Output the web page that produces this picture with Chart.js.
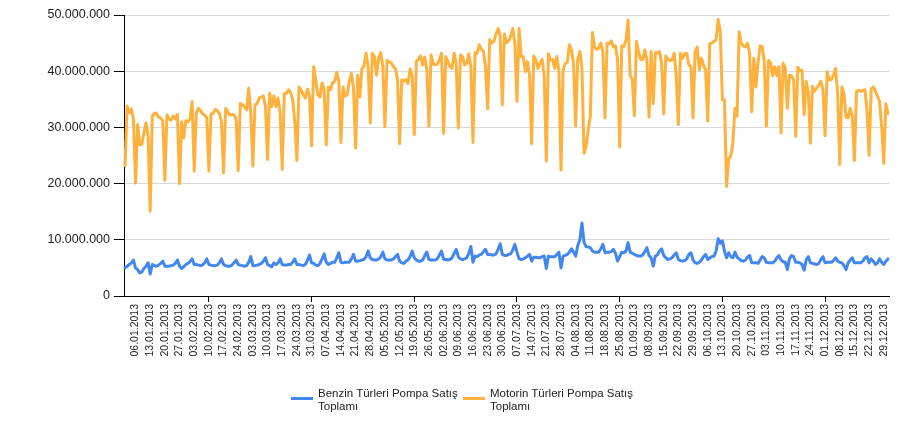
<!DOCTYPE html>
<html>
<head>
<meta charset="utf-8">
<script src="https://cdn.jsdelivr.net/npm/chart.js@4.4.1/dist/chart.umd.min.js"></script>
<style>
  html, body { margin: 0; padding: 0; background: #fff; }
  #wrap { position: relative; width: 906px; height: 432px; overflow: hidden; }
  #c { position: absolute; left: 0; top: 0; }
  .lg-sw { position: absolute; width: 22px; height: 3px; }
  .lg-tx { position: absolute; font-family: "Liberation Sans", Arial, sans-serif; font-size: 11.5px; line-height: 12.7px; color: #222; white-space: nowrap; }
</style>
</head>
<body>
<div id="wrap">
  <canvas id="c" width="906" height="432"></canvas>
  <div class="lg-sw" id="sw0" style="left:291px; top:397px;"></div>
  <div class="lg-tx" id="tx0" style="left:318px; top:387px;"></div>
  <div class="lg-sw" id="sw1" style="left:463px; top:397px;"></div>
  <div class="lg-tx" id="tx1" style="left:490px; top:387px;"></div>
</div>
<script>
// ---- Data (values in millions; daily, 01.01.2013 - 31.12.2013) ----
const UNIT = 1000000;
const seriesNames = ["Benzin Türleri Pompa Satış Toplamı", "Motorin Türleri Pompa Satış Toplamı"];
const legendLines = [["Benzin Türleri Pompa Satış", "Toplamı"], ["Motorin Türleri Pompa Satış", "Toplamı"]];
const seriesColors = ["#4287f0", "#ffb13e"];

const benzin = [
5.0,5.3,5.6,5.9,6.4,5.0,
4.7,4.1,4.3,4.9,5.3,5.9,3.9,
5.6,5.4,5.3,5.5,5.8,6.2,5.3,
5.3,5.3,5.4,5.5,5.8,6.4,5.3,
4.9,5.2,5.6,5.8,6.1,6.6,5.6,
5.6,5.5,5.4,5.5,5.9,6.6,5.6,
5.5,5.4,5.4,5.5,5.9,6.6,5.6,
5.4,5.3,5.3,5.5,5.9,6.4,5.6,
5.5,5.4,5.3,5.4,6.0,7.0,5.4,
5.4,5.5,5.6,5.8,6.2,6.8,5.6,
5.4,5.2,5.9,5.6,5.9,6.6,5.6,
5.5,5.5,5.6,5.6,6.0,6.6,5.6,
5.6,5.5,5.4,5.6,6.3,7.3,5.9,
5.8,5.5,5.4,5.8,6.6,7.5,6.0,
5.6,5.8,6.0,6.0,6.8,7.7,6.0,
5.9,6.0,6.0,6.0,6.6,7.4,6.2,
6.2,6.3,6.4,6.5,7.0,8.0,6.8,
6.5,6.4,6.4,6.6,7.0,7.8,6.6,
6.4,6.4,6.4,6.6,7.0,7.4,6.2,
5.9,5.8,6.2,6.4,7.0,8.0,6.8,
6.4,6.2,6.2,6.4,7.2,7.8,6.5,
6.4,6.4,6.4,6.6,7.3,8.0,6.5,
6.5,6.4,6.5,6.8,7.6,8.3,7.0,
6.6,6.5,6.6,6.8,7.6,8.8,6.0,
7.1,7.0,7.3,7.4,7.9,8.3,7.4,
7.4,7.3,7.3,7.5,8.3,9.3,7.4,
7.2,7.2,7.4,7.5,8.2,9.2,7.8,
6.6,6.5,6.6,6.8,7.1,7.4,6.2,
6.9,6.9,6.8,6.8,7.0,7.1,4.9,
7.1,7.0,7.0,7.0,7.4,7.8,5.0,
7.1,7.2,7.4,7.8,8.4,7.8,7.1,
9.0,10.0,13.0,9.5,8.8,8.7,8.6,
8.0,7.8,7.8,7.8,8.4,9.2,7.7,
7.8,7.8,7.9,8.3,7.6,6.2,7.0,
7.8,7.7,8.0,9.5,7.8,7.6,7.4,
7.2,7.1,7.1,7.3,7.9,8.6,7.2,
6.8,5.3,7.1,7.3,8.0,8.4,7.2,
6.8,6.5,6.6,6.8,7.3,7.7,6.5,
6.3,6.2,6.3,6.6,7.4,7.7,6.4,
5.9,5.8,6.0,6.4,7.0,7.4,6.5,
6.8,7.0,7.1,8.0,10.2,9.4,9.8,
8.0,6.8,7.7,7.0,6.8,7.8,6.9,
6.6,6.3,6.2,6.4,6.9,7.2,5.9,
5.9,5.9,5.8,6.4,7.0,6.8,6.0,
5.9,5.9,5.9,6.2,6.8,7.2,6.4,
6.1,6.0,4.7,6.6,7.2,7.0,6.0,
6.0,5.9,5.6,4.6,6.4,7.0,5.9,
5.8,5.7,5.6,5.8,6.5,7.0,5.9,
6.0,6.0,6.0,6.3,6.8,6.2,6.0,
5.9,5.4,4.7,5.9,6.4,6.8,5.9,
5.9,5.9,5.9,6.2,6.8,7.0,5.9,
6.6,6.2,5.6,5.9,6.6,6.0,5.6,
6.2,6.6
];

const motorin = [
23.2,33.8,32.6,33.3,31.5,20.1,
30.5,26.9,27.0,29.0,30.8,28.5,15.1,
32.0,32.5,32.5,31.8,31.7,31.2,20.6,
32.2,31.5,31.3,32.0,31.5,32.3,20.0,
31.0,28.1,31.2,31.0,31.5,34.6,22.2,
32.6,33.4,33.0,32.4,32.2,31.7,22.2,
32.4,32.5,33.2,33.0,32.5,31.0,21.9,
33.4,32.8,32.2,32.3,32.2,31.5,22.3,
34.3,34.0,33.7,33.1,37.0,32.5,23.1,
34.0,34.2,35.2,35.4,35.6,33.7,24.3,
36.1,33.7,35.6,33.7,35.2,32.5,22.5,
36.0,36.1,36.7,36.2,34.9,31.0,24.1,
37.2,36.7,35.8,35.2,36.8,35.6,26.7,
40.8,38.5,35.8,35.4,37.9,36.7,26.9,
37.2,36.7,37.9,38.2,39.8,38.2,27.3,
37.2,35.6,35.8,38.2,39.6,37.0,26.3,
39.3,35.4,40.4,40.9,43.2,40.8,30.8,
43.2,42.6,39.3,42.3,43.3,40.8,30.1,
41.9,41.7,41.5,40.8,40.5,38.5,27.1,
38.5,38.2,38.5,37.8,40.4,39.1,28.7,
41.7,42.1,42.7,41.1,42.5,40.2,30.2,
42.9,41.3,41.1,41.3,42.0,43.2,28.9,
42.6,41.7,40.8,40.5,43.2,41.4,29.9,
42.9,42.6,41.1,41.4,43.1,40.9,27.3,
43.3,43.2,44.7,43.9,43.5,40.8,33.3,
45.6,45.0,45.3,46.6,47.6,46.2,34.0,
46.6,45.1,45.4,46.2,47.6,45.0,34.6,
47.6,42.6,42.6,39.9,41.7,39.3,27.1,
42.7,42.0,40.5,41.4,42.1,39.1,24.0,
43.1,42.0,42.1,40.5,42.6,40.2,22.4,
40.2,41.4,41.5,44.7,43.8,41.4,30.2,
42.1,43.5,40.5,25.4,26.6,29.6,32.0,
46.9,44.3,43.9,44.1,45.0,43.5,31.7,
45.0,44.9,45.4,44.3,44.5,42.0,26.5,
44.5,44.4,45.5,49.1,39.2,38.6,32.1,
45.3,43.5,42.1,42.1,43.8,42.0,31.8,
43.5,34.2,43.3,43.2,43.5,41.4,32.4,
42.7,42.1,41.9,42.0,43.2,39.1,30.5,
43.2,42.3,43.1,43.2,41.1,40.8,31.7,
43.5,44.3,40.2,42.3,41.1,40.2,31.1,
44.9,45.0,45.3,45.6,49.2,47.0,34.9,
34.9,19.5,24.4,24.9,27.2,33.4,32.0,
47.0,45.0,44.5,44.3,45.0,43.2,32.8,
42.3,37.2,41.4,44.5,44.4,41.7,30.2,
41.9,41.5,39.2,40.8,39.2,40.8,29.0,
41.4,40.7,33.4,39.3,39.2,38.5,28.4,
40.7,40.1,40.2,32.3,38.2,36.4,27.2,
37.3,36.4,37.0,37.6,38.2,36.7,28.5,
39.9,38.5,38.5,39.3,40.5,36.1,23.4,
37.2,36.1,31.8,31.7,33.4,32.0,24.1,
36.4,36.6,36.4,36.6,36.7,33.1,25.0,
36.8,37.2,36.4,35.6,34.6,30.2,23.6,
34.2,32.5
];

// Tick labels shown on the x axis (every Sunday)
const tickLabels = [
"06.01.2013","13.01.2013","20.01.2013","27.01.2013","03.02.2013","10.02.2013","17.02.2013","24.02.2013",
"03.03.2013","10.03.2013","17.03.2013","24.03.2013","31.03.2013","07.04.2013","14.04.2013","21.04.2013",
"28.04.2013","05.05.2013","12.05.2013","19.05.2013","26.05.2013","02.06.2013","09.06.2013","16.06.2013",
"23.06.2013","30.06.2013","07.07.2013","14.07.2013","21.07.2013","28.07.2013","04.08.2013","11.08.2013",
"18.08.2013","25.08.2013","01.09.2013","08.09.2013","15.09.2013","22.09.2013","29.09.2013","06.10.2013",
"13.10.2013","20.10.2013","27.10.2013","03.11.2013","10.11.2013","17.11.2013","24.11.2013","01.12.2013",
"08.12.2013","15.12.2013","22.12.2013","29.12.2013"
];
const yTicks = [0, 10000000, 20000000, 30000000, 40000000, 50000000];

// Categories: every day of 2013 (dd.mm.yyyy)
const categories = [];
for (let d = new Date(Date.UTC(2013, 0, 1)); d.getUTCFullYear() === 2013; d.setUTCDate(d.getUTCDate() + 1)) {
  const dd = String(d.getUTCDate()).padStart(2, "0");
  const mm = String(d.getUTCMonth() + 1).padStart(2, "0");
  categories.push(dd + "." + mm + ".2013");
}
const tickSet = new Set(tickLabels);

function fmt(v) { return String(Math.round(v)).replace(/\B(?=(\d{3})+(?!\d))/g, "."); }

// Legend
for (let k = 0; k < 2; k++) {
  document.getElementById("sw" + k).style.background = seriesColors[k];
  const tx = document.getElementById("tx" + k);
  tx.innerHTML = "";
  legendLines[k].forEach((ln, j) => {
    if (j) tx.appendChild(document.createElement("br"));
    tx.appendChild(document.createTextNode(ln));
  });
}

const FONT = "'Liberation Sans', Arial, sans-serif";

new Chart(document.getElementById("c"), {
  type: "line",
  data: {
    labels: categories,
    datasets: [
      { label: seriesNames[0], data: benzin.map(v => v * UNIT), borderColor: seriesColors[0], backgroundColor: seriesColors[0],
        borderWidth: 3, pointRadius: 0, tension: 0, fill: false, borderJoinStyle: "round", borderCapStyle: "round" },
      { label: seriesNames[1], data: motorin.map(v => v * UNIT), borderColor: seriesColors[1], backgroundColor: seriesColors[1],
        borderWidth: 3, pointRadius: 0, tension: 0, fill: false, borderJoinStyle: "round", borderCapStyle: "round" }
    ]
  },
  options: {
    responsive: false,
    animation: false,
    events: [],
    layout: { padding: { top: 15, right: 17, bottom: 56, left: 0 } },
    plugins: { legend: { display: false }, tooltip: { enabled: false } },
    scales: {
      x: {
        type: "category",
        offset: true,
        grid: {
          display: true, drawOnChartArea: false, drawTicks: true, tickLength: 6,
          tickColor: (c) => (tickSet.has(categories[c.index]) ? "#000" : "rgba(0,0,0,0)"),
          color: "rgba(0,0,0,0)"
        },
        border: { display: true, color: "#000", width: 1 },
        ticks: {
          autoSkip: false, minRotation: 90, maxRotation: 90, padding: 2,
          color: "#222", font: { family: FONT, size: 10.5 },
          callback: function (v, i) { const l = categories[i]; return tickSet.has(l) ? l : null; }
        },
        afterFit: (s) => { s.height = 80; }
      },
      y: {
        min: yTicks[0], max: yTicks[yTicks.length - 1],
        afterBuildTicks: (s) => { s.ticks = yTicks.map(v => ({ value: v })); },
        grid: { color: "#d9d9d9", lineWidth: 1, tickColor: "#000", tickLength: 10, drawTicks: true },
        border: { display: true, color: "#000", width: 1 },
        ticks: { padding: 4, color: "#222", font: { family: FONT, size: 12.5 }, callback: (v) => fmt(v) },
        afterFit: (s) => { s.width = 124; }
      }
    }
  }
});
</script>
</body>
</html>
